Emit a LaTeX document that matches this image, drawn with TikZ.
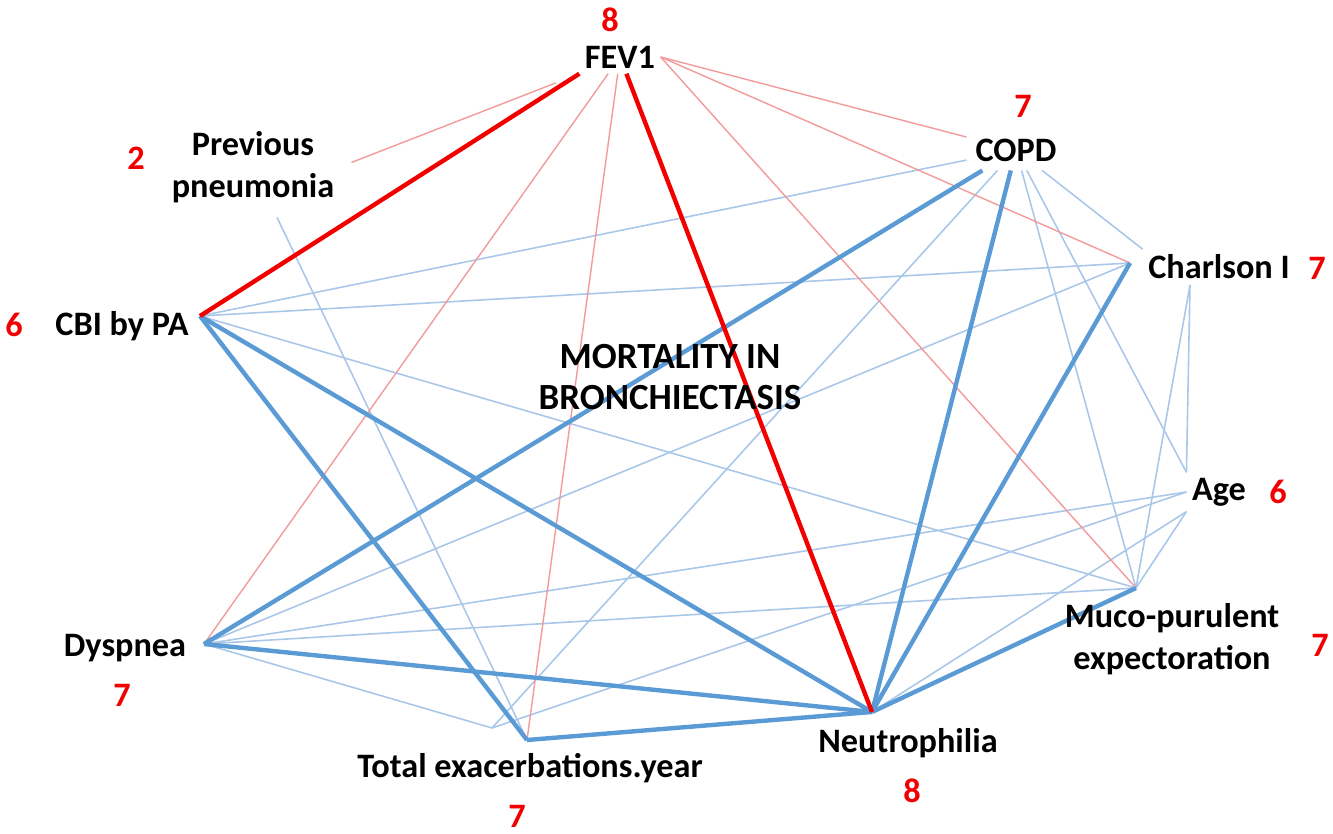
\documentclass[tikz,border=0pt]{standalone}
\usepackage{fontspec}
\setmainfont{Carlito}
\usepackage{xcolor}
\usepackage{tikz}
\usetikzlibrary{positioning,backgrounds}
\definecolor{linkred}{HTML}{F20000}
\definecolor{linkredlt}{HTML}{F39A9A}
\definecolor{linkblue}{HTML}{5B9BD5}
\definecolor{linkbluelt}{HTML}{A9C7E8}
\definecolor{scorered}{HTML}{F00000}
\tikzset{
  var/.style={font=\fontsize{19.5}{24}\selectfont\bfseries,align=center,
              inner sep=3pt},
  score/.style={font=\fontsize{19.5}{24}\selectfont\bfseries,text=scorered,
                inner sep=0pt},
  redstrong/.style={draw=linkred,line width=2.5pt},
  redthin/.style={draw=linkredlt,line width=0.8pt},
  bluestrong/.style={draw=linkblue,line width=2.5pt},
  bluethin/.style={draw=linkbluelt,line width=0.9pt},
}

\begin{document}
\begin{tikzpicture}[x=0.02cm,y=-0.02cm]
  % pixel grid of the original figure: 1333 x 834, y downwards
  \useasboundingbox (0,0) rectangle (1333,834);

  % Variables
  \node[var] (fevL) at (620,57) {FEV1};
  \node[var,inner sep=5pt] (copdL) at (1016,150) {COPD};
  \node[var] (pnL) at (253,167) {Previous\\pneumonia};
  \node[var] (cbiL) at (122,326) {CBI by PA};
  \node[var] (chaL) at (1219,267) {Charlson I};
  \node[var] (ageL) at (1219,492) {Age};
  \node[var] (mucL) at (1172,639) {Muco-purulent\\expectoration};
  \node[var] (neuL) at (908,743) {Neutrophilia};
  \node[var] (texL) at (530,768) {Total exacerbations.year};
  \node[var] (dysL) at (125,648) {Dyspnea};
  \node[var,font=\fontsize{21}{23.5}\selectfont\bfseries] (title) at (670,377)
    {MORTALITY IN\\BRONCHIECTASIS};

  % Scores
  \node[score] (fevS) at (610,20) {8};
  \node[score] (copdS) at (1023,106) {7};
  \node[score] (pnS) at (136,158) {2};
  \node[score] (cbiS) at (14,325) {6};
  \node[score] (chaS) at (1317,268) {7};
  \node[score] (ageS) at (1278,492) {6};
  \node[score] (mucS) at (1320,645) {7};
  \node[score] (neuS) at (912,791) {8};
  \node[score] (texS) at (517,816) {7};
  \node[score] (dysS) at (122,695) {7};

  % Hubs where the links meet
  \coordinate (cbi) at (200,316);
  \coordinate (dys) at (204,644);
  \coordinate (neu) at (872,712);
  \coordinate (muc) at (1136,588);
  \coordinate (cha) at (1130,263);
  \coordinate (chab) at (1190,285);
  \coordinate (tex) at (527,740);
  \coordinate (tex2) at (492,728);

  \begin{scope}[on background layer]
    % thin blue links
    \draw[bluethin] (cbi) -- (copdL);
    \draw[bluethin] (cbi) -- (cha);
    \draw[bluethin] (cbi) -- (muc);
    \draw[bluethin,shorten <=0.2cm] (pnL) -- (tex);
    \draw[bluethin] (copdL) -- (tex2);
    \draw[bluethin] (copdL) -- (muc);
    \draw[bluethin] (copdL) -- (ageL.north west);
    \draw[bluethin] (copdL) -- (chaL.north west);
    \draw[bluethin] (cha) -- (dys);
    \draw[bluethin] (chab) -- (ageL.north west);
    \draw[bluethin] (chab) -- (muc);
    \draw[bluethin] (ageL.west) -- (dys);
    \draw[bluethin] (ageL.west) -- (tex2);
    \draw[bluethin] (ageL.south west) -- (neu);
    \draw[bluethin] (ageL.south west) -- (muc);
    \draw[bluethin] (dys) -- (muc);
    \draw[bluethin] (dys) -- (tex2);

    % thin red links
    \draw[redthin,shorten <=0.25cm,shorten >=0.5cm] (pnL.east) -- (fevL.south west);
    \draw[redthin] (fevL) -- (dys);
    \draw[redthin] (fevL) -- (tex);
    \draw[redthin] (fevL.east) -- (copdL);
    \draw[redthin] (fevL.east) -- (cha);
    \draw[redthin] (fevL.east) -- (muc);

    % strong blue links
    \draw[bluestrong] (cbi) -- (tex);
    \draw[bluestrong] (cbi) -- (neu);
    \draw[bluestrong] (copdL) -- (dys);
    \draw[bluestrong] (copdL) -- (neu);
    \draw[bluestrong] (cha) -- (neu);
    \draw[bluestrong] (dys) -- (neu);
    \draw[bluestrong] (tex) -- (neu);
    \draw[bluestrong] (muc) -- (neu);

    % strong red links
    \draw[redstrong] (fevL.south west) -- (cbi);
    \draw[redstrong] (fevL) -- (neu);
  \end{scope}
\end{tikzpicture}
\end{document}
